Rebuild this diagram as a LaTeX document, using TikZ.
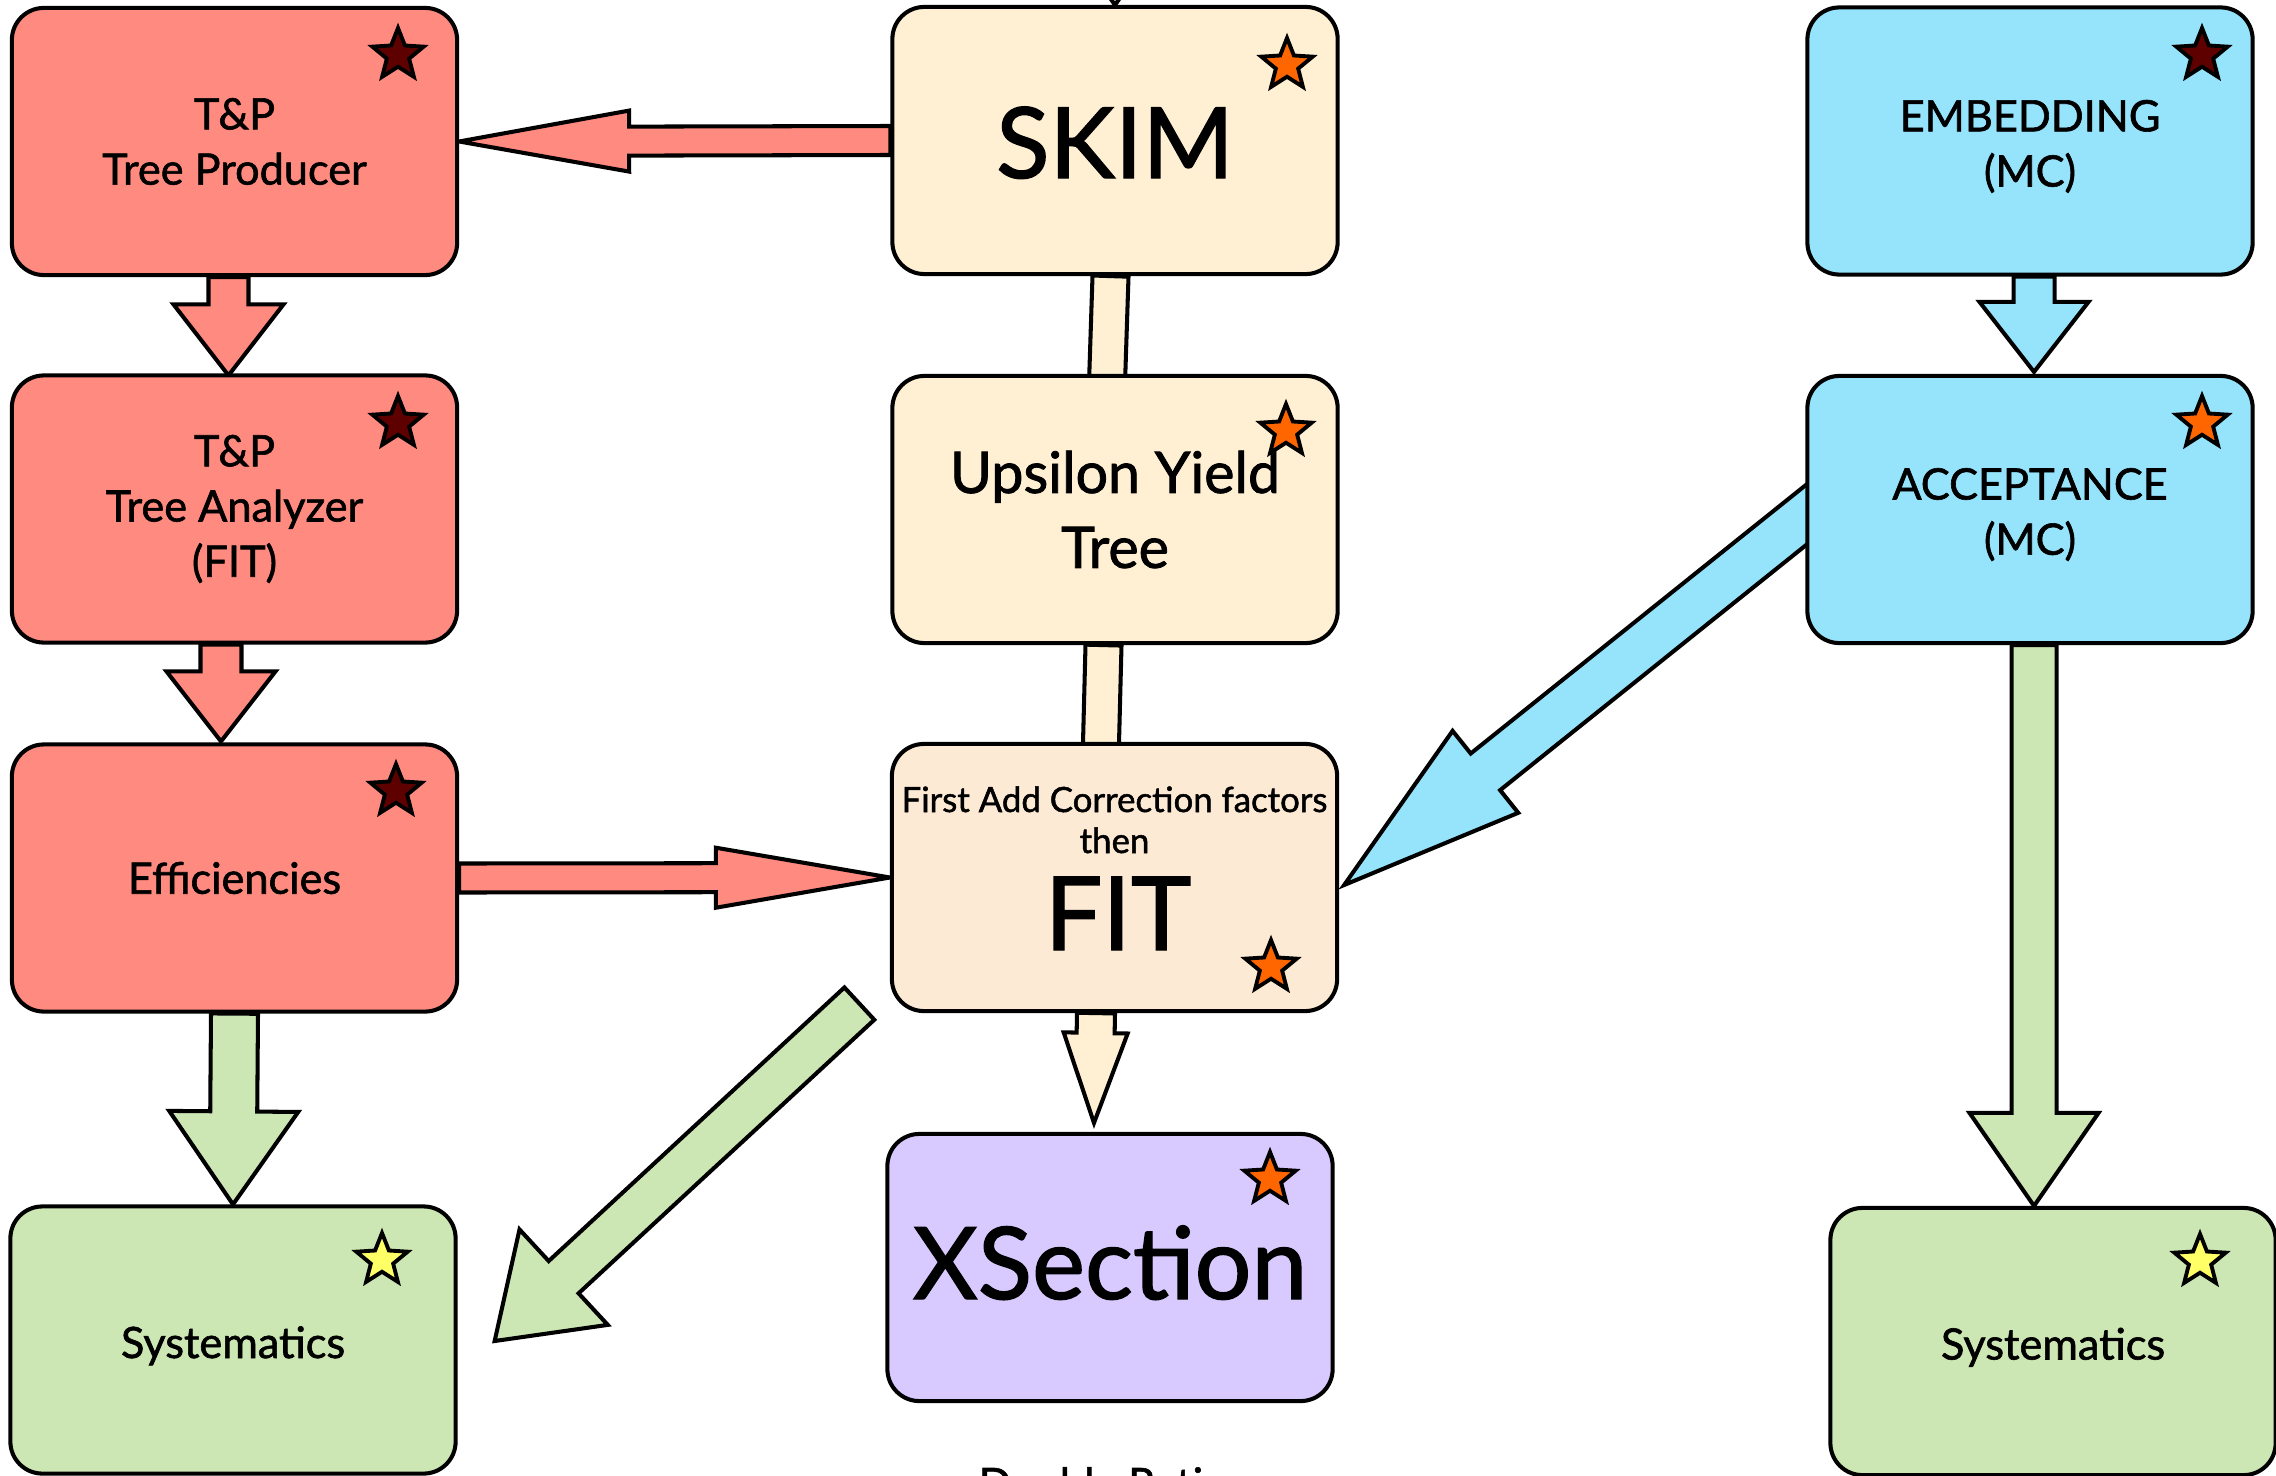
\documentclass[tikz,border=0pt]{standalone}
\usepackage{fontspec}
\setmainfont{Lato}[FakeBold=1.4]
\usetikzlibrary{calc,shapes.geometric}
\pgfdeclarelayer{background}
\pgfsetlayers{background,main}
\definecolor{redfill}{RGB}{255,138,128}
\definecolor{creamfill}{RGB}{255,240,212}
\definecolor{fitfill}{RGB}{253,234,213}
\definecolor{bluefill}{RGB}{150,227,252}
\definecolor{greenfill}{RGB}{204,230,180}
\definecolor{purplefill}{RGB}{216,202,255}
\definecolor{stardark}{RGB}{95,0,0}
\definecolor{starorange}{RGB}{255,102,0}
\definecolor{staryellow}{RGB}{255,255,102}
\newcommand\bodyfont{\fontsize{12.3}{15.7}\selectfont}
% block arrow: style, start, end, shaft half width, head half width, head length (px)
\newcommand\fatarrow[6]{%
  \coordinate (fa-s) at #2;
  \coordinate (fa-e) at #3;
  \pgfmathsetlengthmacro\faw{#4*0.01cm}%
  \pgfmathsetlengthmacro\faH{#5*0.01cm}%
  \pgfmathsetlengthmacro\fal{#6*0.01cm}%
  \coordinate (fa-b) at ($(fa-e)!\fal!(fa-s)$);
  \draw[#1] ($(fa-s)!\faw!90:(fa-e)$) -- ($(fa-b)!\faw!-90:(fa-s)$) -- ($(fa-b)!\faH!-90:(fa-s)$) -- (fa-e) -- ($(fa-b)!\faH!90:(fa-s)$) -- ($(fa-b)!\faw!90:(fa-s)$) -- ($(fa-s)!\faw!-90:(fa-e)$) -- cycle;
}
\tikzset{
  box/.style={draw=black, line width=1.15pt, rounded corners=0.32cm, minimum width=4.45cm, minimum height=2.67cm, align=center, inner sep=0pt, font=\bodyfont},
  arr/.style={draw=black, line width=1.15pt, line join=miter},
  starmark/.style={star, star points=5, star point ratio=2.3, minimum size=0.54cm, inner sep=0pt, draw=black, line width=1.1pt},
}
\begin{document}
\begin{tikzpicture}[x=0.01cm, y=-0.01cm]
\useasboundingbox (0,0) rectangle (2276,1476);
\begin{scope}
\clip (0,0) rectangle (2276,1476);
% boxes
\node[box, fill=redfill] (tp1) at (234.5,141.5) {T\&P\\Tree Producer};
\node[box, fill=redfill] (tp2) at (234.5,509) {T\&P\\Tree Analyzer\\(FIT)};
\node[box, fill=redfill] (eff) at (234.5,878) {Efficiencies};
\node[box, fill=greenfill] (sysL) at (233,1340) {\raisebox{-0.18cm}[0pt][0pt]{Systematics}};
\node[box, fill=creamfill, font=\fontsize{28}{34}\selectfont] (skim) at (1115,140.5) {\raisebox{-0.375cm}[0pt][0pt]{SKIM}};
\node[box, fill=creamfill, font=\fontsize{16.3}{21.3}\selectfont] (ups) at (1115,509.5) {Upsilon Yield\\Tree};
\node[box, fill=fitfill] (fit) at (1114.5,877.5) {};
\node[box, fill=purplefill, font=\fontsize{28.5}{34}\selectfont] (xsec) at (1110,1267.5) {\raisebox{-0.315cm}[0pt][0pt]{XSection}};
\node[box, fill=bluefill] (emb) at (2030,141) {\rule{0pt}{12pt}EMBEDDING\\(MC)};
\node[box, fill=bluefill] (acc) at (2030,509.5) {\rule{0pt}{11.8pt}ACCEPTANCE\\(MC)};
\node[box, fill=greenfill] (sysR) at (2053,1341.5) {\raisebox{-0.18cm}[0pt][0pt]{Systematics}};
% FIT box text
\node[anchor=base, inner sep=0pt, font=\fontsize{9.9}{11}\selectfont] (fitline1) at (1114.5,812) {First Add Correction factors};
\node[anchor=base, inner sep=0pt, font=\fontsize{9.9}{11}\selectfont] (fitline2) at (1114.5,853) {then};
\node[anchor=base, inner sep=0pt, font=\fontsize{29}{34}\selectfont] (fitbig) at (1118,950) {FIT};
% stars
\node[starmark, fill=stardark] (st1) at (398,55) {};
\node[starmark, fill=stardark] (st2) at (398,423) {};
\node[starmark, fill=stardark] (st3) at (396,791) {};
\node[starmark, fill=staryellow] (st4) at (382,1260) {};
\node[starmark, fill=starorange] (st5) at (1287,65) {};
\node[starmark, fill=starorange] (st6) at (1286,431) {};
\node[starmark, fill=starorange] (st7) at (1271,967) {};
\node[starmark, fill=starorange] (st8) at (1270,1179) {};
\node[starmark, fill=stardark] (st9) at (2202,55) {};
\node[starmark, fill=starorange] (st10) at (2202,423) {};
\node[starmark, fill=staryellow] (st11) at (2200,1261) {};
% partly visible caption
\node[anchor=base, inner sep=0pt, font=\bodyfont] (dratio) at (1103,1499) {Double Ratio};
\end{scope}
\begin{pgfonlayer}{background}
\begin{scope}
\clip (0,0) rectangle (2276,1476);
\fill[white] (0,0) rectangle (2276,1476);
\fatarrow{arr, fill=creamfill}{($(skim.north)+(0,-150)$)}{(skim.north)}{20}{50}{70}
\fatarrow{arr, fill=redfill}{(skim.west)}{(tp1.east)}{14.5}{30.5}{170}
\fatarrow{arr, fill=redfill}{(eff.east)}{(fit.west)}{14.5}{30}{174}
\fatarrow{arr, fill=redfill}{($(tp1.south)+(-6,0)$)}{($(tp2.north)+(-6,2)$)}{20}{55}{71}
\fatarrow{arr, fill=redfill}{($(tp2.south)+(-13.5,0)$)}{($(eff.north)+(-13.5,-1)$)}{20.5}{54.5}{70}
\fatarrow{arr, fill=bluefill}{($(emb.south)+(4,0)$)}{($(acc.north)+(4,-2)$)}{20.5}{54.5}{70}
\fatarrow{arr, fill=greenfill}{(eff.south)}{(sysL.north)}{23.5}{64.5}{93}
\fatarrow{arr, fill=greenfill}{($(acc.south)+(4,0)$)}{($(sysR.north)+(-19,0)$)}{22.5}{64.5}{93}
\fatarrow{arr, fill=creamfill}{($(fit.south)+(-18.5,0)$)}{($(xsec.north)+(-16,-9)$)}{19}{32}{90}
\fatarrow{arr, fill=creamfill}{($(skim.south)+(-4.5,0)$)}{($(ups.north)+(-9,40)$)}{18}{18.01}{35}
\fatarrow{arr, fill=creamfill}{($(ups.south)+(-11.5,0)$)}{($(fit.north)+(-14.5,40)$)}{18}{18.01}{35}
\fatarrow{arr, fill=bluefill}{($(acc.west)+(93,-68.5)$)}{($(fit.east)+(5,7.5)$)}{23.5}{52.5}{181}
\fatarrow{arr, fill=greenfill}{($(fit.south west)+(-30.5,-9.5)$)}{($(sysL.east)+(37,1)$)}{22}{65}{94}
\end{scope}
\end{pgfonlayer}
\end{tikzpicture}
\end{document}
